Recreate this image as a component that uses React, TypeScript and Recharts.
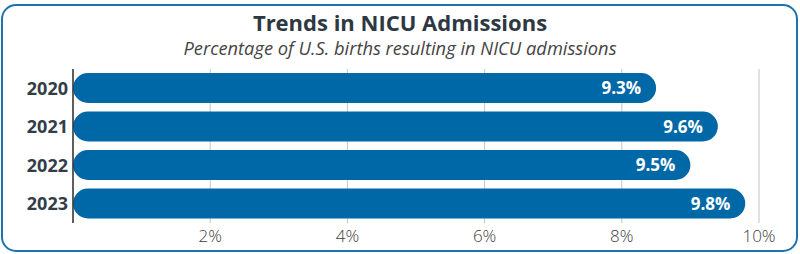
import React from 'react';
import { BarChart, Bar, XAxis, YAxis, CartesianGrid, LabelList } from 'recharts';

const years = ['2020', '2021', '2022', '2023'];
// bar lengths as drawn against the axis in the reference
const barLengths = [8.5, 9.4, 9.0, 9.8];
// printed value labels
const valueLabels = ['9.3%', '9.6%', '9.5%', '9.8%'];
const xTicks = [2, 4, 6, 8, 10];

const data = years.map((y, i) => ({ year: y, value: barLengths[i], label: valueLabels[i] }));

const FONT = '"Open Sans", "Noto Sans", sans-serif';

const ValueLabel = (props: any) => {
  const { x, y, width, height, value } = props;
  return (
    <text
      x={x + width - 15}
      y={y + height / 2}
      dy="0.36em"
      textAnchor="end"
      fill="#ffffff"
      fontFamily={FONT}
      fontWeight={700}
      fontSize={17}
    >
      {value}
    </text>
  );
};

export default function App() {
  return (
    <div style={{ position: 'absolute', left: 0, top: 0, width: 800, height: 254, background: '#fff' }}>
      <div
        style={{
          position: 'absolute',
          left: 1,
          top: 4,
          width: 797,
          height: 248,
          boxSizing: 'border-box',
          border: '2px solid #1d72b0',
          borderRadius: 15,
        }}
      />
      <div
        style={{
          position: 'absolute',
          left: 0,
          top: 7,
          width: 800,
          textAlign: 'center',
          fontFamily: FONT,
          fontWeight: 700,
          fontSize: 22,
          color: '#2d3843',
          lineHeight: '30px',
        }}
      >
        Trends in NICU Admissions
      </div>
      <div
        style={{
          position: 'absolute',
          left: 0,
          top: 35,
          width: 800,
          textAlign: 'center',
          fontFamily: FONT,
          fontStyle: 'italic',
          fontSize: 18.3,
          color: '#444',
          lineHeight: '25px',
        }}
      >
        Percentage of U.S. births resulting in NICU admissions
      </div>
      <div style={{ position: 'absolute', left: 0, top: 0 }}>
        <BarChart
          width={800}
          height={254}
          data={data}
          layout="vertical"
          margin={{ top: 69, right: 41, bottom: 0, left: 0 }}
          barSize={30}
        >
          <CartesianGrid horizontal={false} stroke="#c4c4c4" strokeWidth={1} />
          <XAxis
            type="number"
            domain={[0, 10]}
            ticks={xTicks}
            tickFormatter={(v: number) => `${v}%`}
            axisLine={false}
            tickLine={false}
            tickSize={0}
            tickMargin={7}
            height={31}
            tick={{ fontFamily: FONT, fontSize: 17, fontWeight: 300, fill: '#404040' }}
          />
          <YAxis
            type="category"
            dataKey="year"
            width={73}
            axisLine={{ stroke: '#333', strokeWidth: 1.5 }}
            tickLine={false}
            tickSize={0}
            tickMargin={5}
            tick={{ fontFamily: FONT, fontSize: 18, fontWeight: 700, fill: '#333d47' }}
          />
          <Bar dataKey="value" fill="#0068a6" radius={15} isAnimationActive={false}>
            <LabelList dataKey="label" content={ValueLabel} />
          </Bar>
        </BarChart>
      </div>
    </div>
  );
}
